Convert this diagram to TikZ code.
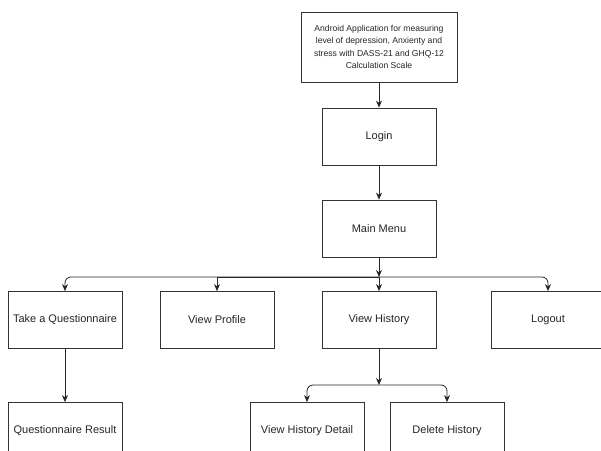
\documentclass[tikz,border=0pt]{standalone}
\usepackage{fontspec}
\setmainfont{Liberation Sans}
\usetikzlibrary{arrows.meta, calc}

\begin{document}
\begin{tikzpicture}[x=1pt, y=-1pt,
  box/.style={draw=black!80, line width=0.8pt, fill=white, minimum width=114pt, minimum height=57pt, inner sep=2pt, text=black!85, font=\fontsize{11}{12}\selectfont},
  arr/.style={-{Stealth[length=7pt, width=6pt]}, line width=0.8pt, draw=black!85},
  roundarr/.style={arr, rounded corners=6pt}]
\useasboundingbox (0,0) rectangle (601,450);
\path
(379,47) node[box, minimum width=156pt, minimum height=70pt, align=center, font=\fontsize{8.6}{12.5}\selectfont] (app) {Android Application for measuring\\level of depression, Anxienty and\\stress with DASS-21 and GHQ-12\\Calculation Scale};
\path
(379,136.5) node[box] (login) {Login};
\path
(379,228.5) node[box] (menu) {Main Menu};
\path
(65,320) node[box] (quest) {Take a Questionnaire};
\path
(217,320) node[box] (profile) {View Profile};
\path
(379,320) node[box] (history) {View History};
\path
(548,320) node[box] (logout) {Logout};
\path
(65,431) node[box] (result) {Questionnaire Result};
\path
(307,431) node[box] (detail) {View History Detail};
\path
(447,431) node[box] (delete) {Delete History};
\coordinate (split) at (379,277);
\coordinate (hsplit) at (379,385);
\draw[arr] (app) -- (login);
\draw[arr] (login) -- (menu);
\draw[arr] (menu) -- (split);
\draw[roundarr] (split) -| (quest);
\draw[arr] (split) -| (profile);
\draw[arr] (split) -- (history);
\draw[roundarr] (split) -| (logout);
\draw[arr] (quest) -- (result);
\draw[arr] (history) -- (hsplit);
\draw[roundarr] (hsplit) -| (detail);
\draw[roundarr] (hsplit) -| (delete);
\end{tikzpicture}
\end{document}
